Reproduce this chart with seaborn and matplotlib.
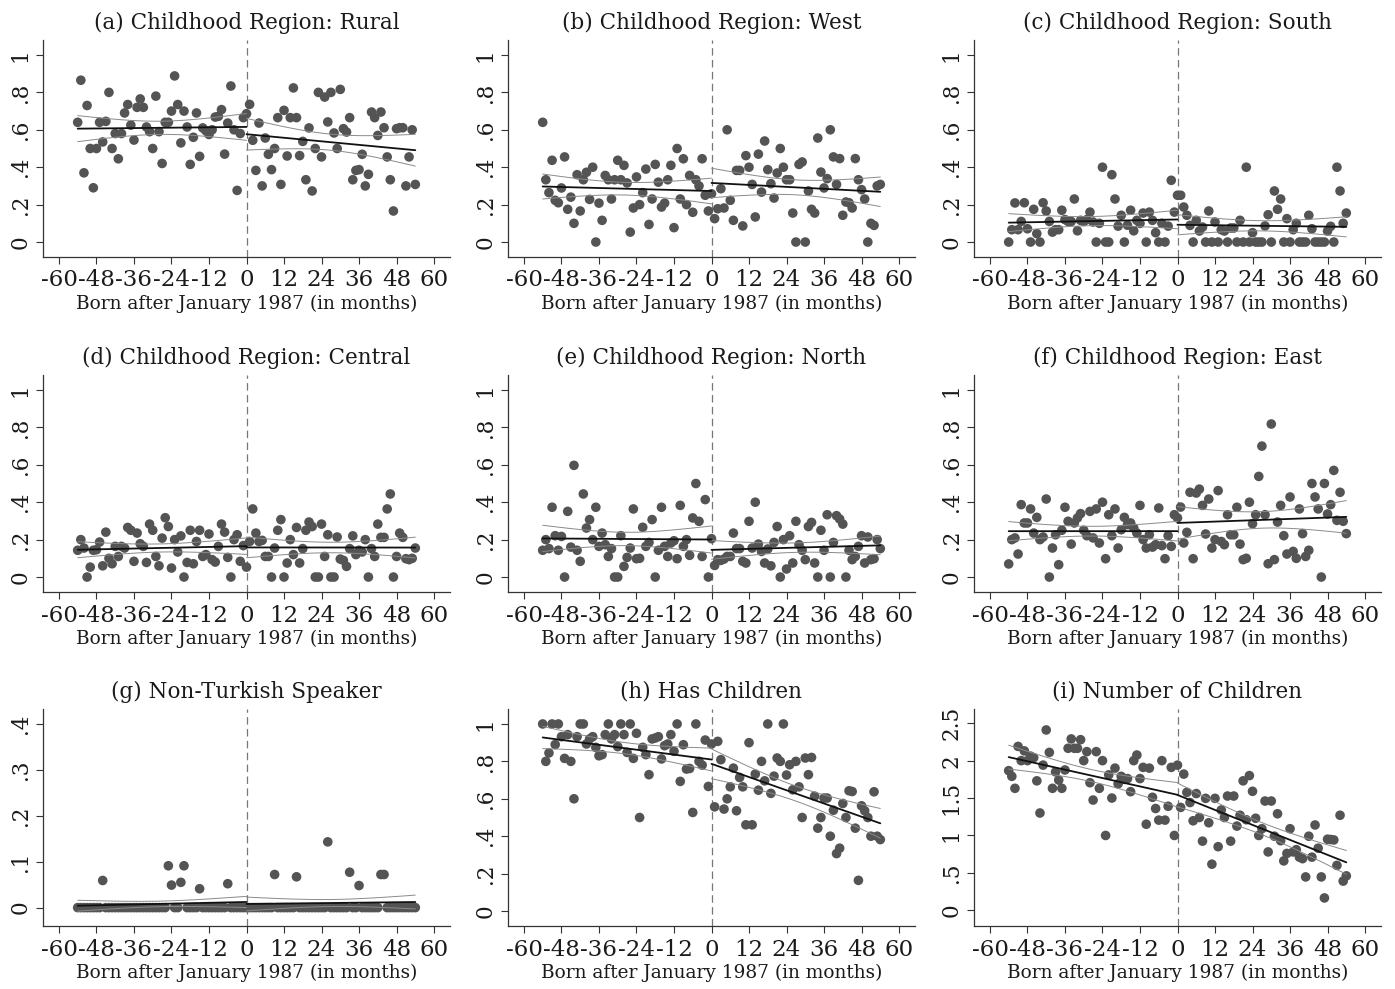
import numpy as np
import matplotlib
matplotlib.use("Agg")
import matplotlib.pyplot as plt
import seaborn as sns

# month of birth relative to January 1987 (one bin per month)
months = list(range(-54, 55))

# ---- values, months -54 .. 54 ----
rural = [
    0.64, 0.865, 0.37, 0.73, 0.50, 0.29, 0.50, 0.64, 0.535, 0.645,
    0.80, 0.50, 0.58, 0.445, 0.58, 0.69, 0.735, 0.625, 0.545, 0.72,
    0.765, 0.72, 0.615, 0.59, 0.50, 0.78, 0.59, 0.42, 0.64, 0.64,
    0.70, 0.888, 0.735, 0.53, 0.70, 0.615, 0.415, 0.56, 0.69, 0.458,
    0.61, 0.595, 0.575, 0.60, 0.668, 0.672, 0.708, 0.47, 0.636, 0.834,
    0.60, 0.276, 0.58, 0.665, 0.686,
    0.736, 0.544, 0.383, 0.636, 0.30, 0.556, 0.469, 0.387, 0.50, 0.665,
    0.308, 0.704, 0.46, 0.665, 0.824, 0.665, 0.462, 0.538, 0.333, 0.61,
    0.273, 0.50, 0.80, 0.455, 0.775, 0.642, 0.80, 0.583, 0.50, 0.816,
    0.606, 0.588, 0.665, 0.333, 0.383, 0.387, 0.469, 0.30, 0.362, 0.695,
    0.665, 0.57, 0.695, 0.611, 0.455, 0.333, 0.166, 0.606, 0.611, 0.611,
    0.30, 0.455, 0.60, 0.308,
]
west = [
    0.64, 0.333, 0.264, 0.437, 0.223, 0.21, 0.289, 0.455, 0.175, 0.24,
    0.10, 0.36, 0.166, 0.333, 0.373, 0.228, 0.40, 0.0, 0.208, 0.116,
    0.356, 0.333, 0.23, 0.333, 0.437, 0.333, 0.41, 0.316, 0.053, 0.182,
    0.348, 0.20, 0.264, 0.39, 0.094, 0.23, 0.415, 0.32, 0.187, 0.208,
    0.333, 0.41, 0.077, 0.50, 0.23, 0.445, 0.20, 0.356, 0.159, 0.333,
    0.30, 0.445, 0.25, 0.166, 0.258,
    0.125, 0.178, 0.285, 0.182, 0.60, 0.223, 0.116, 0.383, 0.383, 0.086,
    0.462, 0.40, 0.308, 0.134, 0.47, 0.267, 0.54, 0.387, 0.312, 0.235,
    0.369, 0.50, 0.40, 0.333, 0.333, 0.155, 0.0, 0.415, 0.428, 0.0,
    0.273, 0.175, 0.155, 0.556, 0.374, 0.289, 0.339, 0.60, 0.455, 0.308,
    0.446, 0.143, 0.214, 0.21, 0.182, 0.446, 0.333, 0.28, 0.23, 0.0,
    0.10, 0.089, 0.30, 0.308,
]
south = [
    0.0, 0.066, 0.209, 0.066, 0.11, 0.21, 0.071, 0.0, 0.175, 0.045,
    0.0, 0.21, 0.166, 0.11, 0.053, 0.066, 0.066, 0.17, 0.12, 0.11,
    0.11, 0.23, 0.06, 0.116, 0.11, 0.12, 0.16, 0.107, 0.0, 0.10,
    0.40, 0.0, 0.0, 0.36, 0.23, 0.085, 0.143, 0.0, 0.09, 0.17,
    0.06, 0.116, 0.10, 0.155, 0.0, 0.16, 0.116, 0.05, 0.0, 0.10,
    0.0, 0.085, 0.33, 0.16, 0.25,
    0.25, 0.187, 0.143, 0.089, 0.0, 0.116, 0.059, 0.08, 0.0, 0.166,
    0.0, 0.107, 0.0, 0.066, 0.059, 0.0, 0.075, 0.075, 0.0, 0.116,
    0.0, 0.40, 0.0, 0.05, 0.0, 0.0, 0.0, 0.086, 0.146, 0.0,
    0.273, 0.175, 0.23, 0.0, 0.125, 0.0, 0.066, 0.10, 0.0, 0.0,
    0.0, 0.143, 0.071, 0.0, 0.0, 0.0, 0.0, 0.059, 0.084, 0.0,
    0.40, 0.273, 0.10, 0.155,
]
central = [
    0.143, 0.20, 0.155, 0.0, 0.053, 0.143, 0.146, 0.187, 0.06, 0.24,
    0.10, 0.071, 0.164, 0.11, 0.164, 0.155, 0.265, 0.25, 0.084, 0.235,
    0.178, 0.164, 0.078, 0.283, 0.25, 0.11, 0.06, 0.208, 0.317, 0.27,
    0.048, 0.20, 0.134, 0.22, 0.0, 0.078, 0.25, 0.071, 0.19, 0.25,
    0.11, 0.12, 0.23, 0.093, 0.08, 0.164, 0.283, 0.24, 0.105, 0.0,
    0.20, 0.226, 0.084, 0.168, 0.053,
    0.19, 0.364, 0.235, 0.19, 0.196, 0.11, 0.11, 0.0, 0.155, 0.25,
    0.307, 0.0, 0.075, 0.20, 0.12, 0.265, 0.075, 0.152, 0.25, 0.294,
    0.27, 0.0, 0.0, 0.283, 0.11, 0.226, 0.0, 0.0, 0.214, 0.096,
    0.089, 0.057, 0.152, 0.22, 0.12, 0.143, 0.134, 0.20, 0.0, 0.152,
    0.11, 0.283, 0.212, 0.212, 0.364, 0.444, 0.0, 0.11, 0.235, 0.212,
    0.098, 0.093, 0.10, 0.155,
]
north = [
    0.143, 0.20, 0.152, 0.373, 0.221, 0.143, 0.217, 0.0, 0.351, 0.16,
    0.597, 0.143, 0.084, 0.444, 0.262, 0.307, 0.20, 0.373, 0.164, 0.235,
    0.173, 0.11, 0.152, 0.0, 0.0, 0.221, 0.057, 0.105, 0.155, 0.364,
    0.098, 0.10, 0.266, 0.164, 0.185, 0.307, 0.0, 0.143, 0.373, 0.164,
    0.11, 0.182, 0.194, 0.098, 0.383, 0.164, 0.20, 0.116, 0.316, 0.50,
    0.298, 0.11, 0.414, 0.0, 0.205,
    0.062, 0.093, 0.089, 0.096, 0.11, 0.11, 0.235, 0.152, 0.152, 0.084,
    0.075, 0.298, 0.155, 0.40, 0.176, 0.137, 0.075, 0.15, 0.06, 0.185,
    0.27, 0.0, 0.20, 0.043, 0.221, 0.075, 0.298, 0.173, 0.143, 0.093,
    0.27, 0.292, 0.075, 0.0, 0.25, 0.143, 0.333, 0.0, 0.185, 0.328,
    0.31, 0.283, 0.0, 0.143, 0.093, 0.11, 0.164, 0.221, 0.075, 0.214,
    0.093, 0.098, 0.20, 0.152,
]
east = [
    0.07, 0.20, 0.209, 0.123, 0.387, 0.289, 0.289, 0.364, 0.235, 0.319,
    0.20, 0.214, 0.417, 0.0, 0.155, 0.226, 0.066, 0.25, 0.373, 0.298,
    0.176, 0.289, 0.316, 0.339, 0.25, 0.221, 0.351, 0.209, 0.364, 0.182,
    0.40, 0.098, 0.333, 0.221, 0.364, 0.155, 0.253, 0.319, 0.28, 0.289,
    0.262, 0.235, 0.383, 0.20, 0.155, 0.226, 0.16, 0.173, 0.369, 0.168,
    0.098, 0.221, 0.164, 0.333, 0.316,
    0.374, 0.182, 0.239, 0.453, 0.098, 0.449, 0.47, 0.383, 0.23, 0.417,
    0.155, 0.20, 0.462, 0.19, 0.173, 0.333, 0.226, 0.226, 0.373, 0.176,
    0.093, 0.10, 0.40, 0.285, 0.333, 0.538, 0.70, 0.333, 0.071, 0.818,
    0.093, 0.294, 0.383, 0.221, 0.123, 0.428, 0.137, 0.10, 0.364, 0.232,
    0.11, 0.143, 0.50, 0.428, 0.364, 0.0, 0.50, 0.337, 0.387, 0.57,
    0.303, 0.453, 0.298, 0.232,
]
non_turkish = [
    0, 0, 0, 0, 0, 0, 0, 0, 0.059, 0,
    0, 0, 0, 0, 0, 0, 0, 0, 0, 0,
    0, 0, 0, 0, 0, 0, 0, 0, 0, 0.091,
    0.049, 0, 0, 0.055, 0.091, 0, 0, 0, 0, 0.041,
    0, 0, 0, 0, 0, 0, 0, 0, 0.052, 0,
    0, 0, 0, 0, 0,
    0, 0, 0, 0, 0, 0, 0, 0, 0.072, 0,
    0, 0, 0, 0, 0, 0.067, 0, 0, 0, 0,
    0, 0, 0, 0, 0, 0.143, 0, 0, 0, 0,
    0, 0, 0.077, 0, 0, 0.048, 0, 0, 0, 0,
    0, 0, 0.072, 0.072, 0, 0, 0, 0, 0, 0,
    0, 0, 0, 0,
]
has_children = [
    1.0, 0.80, 0.845, 1.0, 0.89, 1.0, 0.932, 0.816, 0.943, 0.80,
    0.60, 0.932, 1.0, 1.0, 0.893, 0.92, 0.932, 0.875, 0.83, 0.836,
    0.943, 1.0, 0.92, 0.943, 0.879, 1.0, 0.943, 0.848, 1.0, 0.816,
    0.95, 0.50, 0.875, 0.836, 0.729, 0.92, 0.925, 0.932, 0.813, 0.884,
    0.893, 0.943, 0.854, 1.0, 0.693, 0.889, 0.759, 0.762, 0.527, 1.0,
    0.80, 0.78, 0.914, 0.666, 0.893,
    0.557, 0.907, 0.809, 0.545, 0.60, 0.664, 0.764, 0.536, 0.714, 0.664,
    0.461, 0.90, 0.461, 0.732, 0.646, 0.80, 0.696, 1.0, 0.629, 0.721,
    0.818, 0.80, 1.0, 0.727, 0.782, 0.648, 0.80, 0.664, 0.50, 0.818,
    0.729, 0.821, 0.614, 0.443, 0.50, 0.604, 0.604, 0.40, 0.539, 0.307,
    0.336, 0.575, 0.50, 0.643, 0.639, 0.443, 0.164, 0.5625, 0.536, 0.50,
    0.40, 0.6375, 0.40, 0.382,
]
num_children = [
    1.866, 1.79, 1.63, 2.19, 2.0, 2.13, 2.0, 2.06, 2.04, 1.73,
    1.30, 1.94, 2.41, 2.11, 1.63, 1.85, 1.74, 1.63, 1.875, 2.165,
    2.29, 2.165, 2.165, 2.28, 2.0, 2.12, 1.705, 1.473, 2.12, 1.63,
    2.0, 1.0, 1.81, 1.50, 1.90, 1.69, 1.79, 1.75, 1.76, 1.585,
    2.0, 2.075, 1.76, 1.91, 1.15, 1.90, 1.51, 1.36, 1.205, 2.0,
    1.205, 1.39, 1.91, 1.0, 1.94,
    1.375, 1.82, 1.576, 1.44, 1.196, 1.56, 1.24, 0.924, 1.496, 1.17,
    0.616, 1.496, 0.85, 1.34, 1.24, 1.527, 0.924, 1.527, 1.125, 1.27,
    1.73, 1.21, 1.80, 1.59, 1.23, 1.0, 1.09, 1.46, 0.78, 1.46,
    0.99, 1.29, 0.93, 0.66, 0.76, 1.09, 0.78, 0.81, 0.71, 0.69,
    0.446, 0.99, 0.71, 1.14, 0.83, 0.446, 0.165, 0.95, 0.946, 0.94,
    0.60, 1.27, 0.39, 0.46,
]

titles = [
    "(a) Childhood Region: Rural", "(b) Childhood Region: West",
    "(c) Childhood Region: South", "(d) Childhood Region: Central",
    "(e) Childhood Region: North", "(f) Childhood Region: East",
    "(g) Non-Turkish Speaker", "(h) Has Children", "(i) Number of Children",
]
series = [rural, west, south, central, north, east,
          non_turkish, has_children, num_children]

share_ticks = [0, 0.2, 0.4, 0.6, 0.8, 1]
share_labels = ["0", ".2", ".4", ".6", ".8", "1"]
g_ticks = [0, 0.1, 0.2, 0.3, 0.4]
g_labels = ["0", ".1", ".2", ".3", ".4"]
i_ticks = [0, 0.5, 1, 1.5, 2, 2.5]
i_labels = ["0", ".5", "1", "1.5", "2", "2.5"]
x_ticks = [-60, -48, -36, -24, -12, 0, 12, 24, 36, 48, 60]


def fit_side(x, y, xs):
    """OLS line and 95% confidence band for the mean."""
    x = np.asarray(x, float)
    y = np.asarray(y, float)
    n = len(x)
    b1, b0 = np.polyfit(x, y, 1)
    resid = y - (b0 + b1 * x)
    s = np.sqrt(resid @ resid / (n - 2))
    sxx = ((x - x.mean()) ** 2).sum()
    yhat = b0 + b1 * xs
    se = s * np.sqrt(1 / n + (xs - x.mean()) ** 2 / sxx)
    return yhat, yhat - 1.98 * se, yhat + 1.98 * se


sns.set_theme(style="ticks")
plt.rcParams["font.family"] = ["DejaVu Serif"]

W, H = 1395, 989
fig = plt.figure(figsize=(W / 100, H / 100), dpi=100)

lefts = [43, 508, 974]
tops = [40, 375, 709]
aw, ah = 407, 217

x = np.array(months)
for k, (title, vals) in enumerate(zip(titles, series)):
    r, c = divmod(k, 3)
    ax = fig.add_axes([lefts[c] / W, 1 - (tops[r] + ah) / H, aw / W, ah / H])
    y = np.array(vals, float)

    sns.scatterplot(x=x, y=y, ax=ax, color="#545454", s=48,
                    edgecolor="none", linewidth=0, zorder=2)

    # fitted lines on each side of the cutoff
    for mask, xs in [(x < 0, np.linspace(-54, 0, 60)),
                     (x >= 0, np.linspace(0, 54, 60))]:
        yhat, lo, hi = fit_side(x[mask], y[mask], xs)
        ax.plot(xs, lo, color="#8a8a8a", lw=0.7, zorder=3)
        ax.plot(xs, hi, color="#8a8a8a", lw=0.7, zorder=3)
        ax.plot(xs, yhat, color="#111111", lw=1.3, zorder=4)

    ax.axvline(0, color="#777777", lw=0.9, ls=(0, (6, 3.5)), zorder=1)

    if k == 6:
        ax.set_ylim(-0.04, 0.432)
        ticks, labels = g_ticks, g_labels
    elif k == 8:
        ax.set_ylim(-0.21, 2.69)
        ticks, labels = i_ticks, i_labels
    else:
        ax.set_ylim(-0.08, 1.08)
        ticks, labels = share_ticks, share_labels
    ax.set_yticks(ticks)
    ax.set_yticklabels(labels, rotation=90, va="center")
    ax.set_xlim(-65.1, 65.1)
    ax.set_xticks(x_ticks)
    ax.set_xticklabels([str(t) for t in x_ticks])

    ax.set_title(title, fontsize=15.5, pad=8, color="#1a1a1a")
    ax.set_xlabel("Born after January 1987 (in months)", fontsize=13.3,
                  labelpad=2, color="#1a1a1a")
    ax.set_ylabel("")
    ax.tick_params(axis="x", labelsize=16.5, pad=4)
    ax.tick_params(axis="y", labelsize=15.5, pad=3)
    ax.tick_params(axis="both", length=5, width=0.8,
                   colors="#333333", labelcolor="#1a1a1a")
    sns.despine(ax=ax)
    for side in ["left", "bottom"]:
        ax.spines[side].set_color("#333333")
        ax.spines[side].set_linewidth(0.9)

fig.savefig("out.png", dpi=100)
